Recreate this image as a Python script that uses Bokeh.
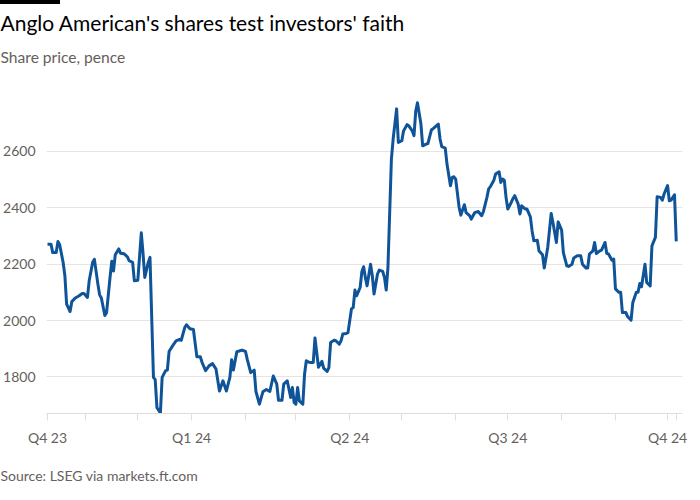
import pandas as pd
from bokeh.plotting import figure
from bokeh.models import ColumnDataSource, FixedTicker, Range1d, Title, Div
from bokeh.layouts import column
from bokeh.embed import file_html
from bokeh.resources import INLINE

# ---- data ----
dates = [
    "2023-10-10", "2023-10-12", "2023-10-13", "2023-10-15", "2023-10-16", "2023-10-17", "2023-10-19",
    "2023-10-20", "2023-10-21", "2023-10-23", "2023-10-24", "2023-10-26", "2023-10-28", "2023-10-30",
    "2023-10-31", "2023-11-02", "2023-11-03", "2023-11-05", "2023-11-06", "2023-11-08", "2023-11-09",
    "2023-11-10", "2023-11-12", "2023-11-13", "2023-11-15", "2023-11-16", "2023-11-17", "2023-11-18",
    "2023-11-20", "2023-11-21", "2023-11-23", "2023-11-25", "2023-11-26", "2023-11-28", "2023-11-29",
    "2023-12-01", "2023-12-03", "2023-12-04", "2023-12-05", "2023-12-07", "2023-12-08", "2023-12-10",
    "2023-12-11", "2023-12-12", "2023-12-14", "2023-12-15", "2023-12-17", "2023-12-18", "2023-12-19",
    "2023-12-21", "2023-12-23", "2023-12-25", "2023-12-26", "2023-12-28", "2023-12-29", "2023-12-31",
    "2024-01-02", "2024-01-04", "2024-01-06", "2024-01-07", "2024-01-09", "2024-01-11", "2024-01-13",
    "2024-01-15", "2024-01-17", "2024-01-19", "2024-01-21", "2024-01-23", "2024-01-24", "2024-01-25",
    "2024-01-27", "2024-01-30", "2024-02-01", "2024-02-02", "2024-02-04", "2024-02-06", "2024-02-07",
    "2024-02-09", "2024-02-11", "2024-02-13", "2024-02-15", "2024-02-17", "2024-02-19", "2024-02-20",
    "2024-02-22", "2024-02-23", "2024-02-25", "2024-02-26", "2024-02-27", "2024-02-28", "2024-02-29",
    "2024-03-01", "2024-03-02", "2024-03-03", "2024-03-05", "2024-03-06", "2024-03-07", "2024-03-09",
    "2024-03-11", "2024-03-12", "2024-03-14", "2024-03-16", "2024-03-17", "2024-03-19", "2024-03-20",
    "2024-03-21", "2024-03-23", "2024-03-24", "2024-03-26", "2024-03-27", "2024-03-28", "2024-03-30",
    "2024-03-31", "2024-04-02", "2024-04-03", "2024-04-04", "2024-04-05", "2024-04-07", "2024-04-08",
    "2024-04-09", "2024-04-10", "2024-04-11", "2024-04-13", "2024-04-14", "2024-04-15", "2024-04-17",
    "2024-04-18", "2024-04-20", "2024-04-21", "2024-04-22", "2024-04-23", "2024-04-25", "2024-04-26",
    "2024-04-28", "2024-04-29", "2024-05-01", "2024-05-02", "2024-05-04", "2024-05-05", "2024-05-07",
    "2024-05-08", "2024-05-09", "2024-05-10", "2024-05-12", "2024-05-13", "2024-05-15", "2024-05-16",
    "2024-05-18", "2024-05-19", "2024-05-22", "2024-05-23", "2024-05-24", "2024-05-26", "2024-05-27",
    "2024-05-29", "2024-05-30", "2024-05-31", "2024-06-01", "2024-06-03", "2024-06-04", "2024-06-06",
    "2024-06-07", "2024-06-09", "2024-06-10", "2024-06-12", "2024-06-14", "2024-06-16", "2024-06-17",
    "2024-06-19", "2024-06-20", "2024-06-21", "2024-06-23", "2024-06-24", "2024-06-26", "2024-06-27",
    "2024-06-28", "2024-06-29", "2024-06-30", "2024-07-01", "2024-07-03", "2024-07-04", "2024-07-05",
    "2024-07-07", "2024-07-08", "2024-07-09", "2024-07-11", "2024-07-12", "2024-07-14", "2024-07-15",
    "2024-07-16", "2024-07-18", "2024-07-19", "2024-07-21", "2024-07-22", "2024-07-24", "2024-07-26",
    "2024-07-27", "2024-07-29", "2024-07-30", "2024-08-01", "2024-08-02", "2024-08-04", "2024-08-05",
    "2024-08-07", "2024-08-08", "2024-08-10", "2024-08-12", "2024-08-13", "2024-08-15", "2024-08-16",
    "2024-08-17", "2024-08-19", "2024-08-20", "2024-08-21", "2024-08-23", "2024-08-24", "2024-08-26",
    "2024-08-27", "2024-08-28", "2024-08-30", "2024-08-31", "2024-09-01", "2024-09-03", "2024-09-04",
    "2024-09-05", "2024-09-07", "2024-09-08", "2024-09-10", "2024-09-11", "2024-09-13", "2024-09-14",
    "2024-09-15", "2024-09-16", "2024-09-18", "2024-09-19", "2024-09-21", "2024-09-22", "2024-09-24",
    "2024-09-25", "2024-09-27", "2024-09-28", "2024-09-29", "2024-10-01", "2024-10-02", "2024-10-03",
    "2024-10-05", "2024-10-06",
]
prices = [
    2271, 2271, 2241, 2241, 2280, 2269, 2206,
    2159, 2058, 2032, 2067, 2080, 2087, 2096,
    2096, 2082, 2141, 2207, 2217, 2129, 2091,
    2080, 2018, 2028, 2153, 2210, 2176, 2233,
    2254, 2239, 2237, 2226, 2212, 2206, 2141,
    2143, 2311, 2238, 2153, 2206, 2224, 1798,
    1790, 1691, 1672, 1798, 1822, 1824, 1890,
    1910, 1928, 1933, 1930, 1975, 1985, 1971,
    1968, 1871, 1871, 1851, 1822, 1839, 1847,
    1828, 1750, 1786, 1750, 1798, 1861, 1824,
    1889, 1895, 1890, 1862, 1815, 1824, 1748,
    1703, 1747, 1755, 1748, 1803, 1774, 1717,
    1717, 1774, 1786, 1757, 1727, 1762, 1709,
    1703, 1762, 1715, 1703, 1810, 1857, 1851,
    1851, 1938, 1834, 1855, 1831, 1819, 1833,
    1922, 1930, 1928, 1916, 1928, 1952, 1954,
    1957, 2041, 2046, 2108, 2088, 2117, 2174,
    2191, 2153, 2123, 2200, 2159, 2094, 2165,
    2179, 2174, 2153, 2108, 2188, 2573, 2644,
    2751, 2632, 2638, 2673, 2695, 2691, 2673,
    2656, 2742, 2773, 2697, 2620, 2626, 2628,
    2676, 2681, 2697, 2644, 2617, 2612, 2555,
    2478, 2508, 2510, 2502, 2401, 2374, 2411,
    2383, 2372, 2360, 2383, 2387, 2372, 2387,
    2437, 2467, 2475, 2498, 2520, 2528, 2490,
    2502, 2498, 2437, 2396, 2419, 2433, 2443,
    2413, 2378, 2407, 2396, 2396, 2368, 2318,
    2283, 2285, 2247, 2233, 2186, 2259, 2380,
    2348, 2277, 2350, 2321, 2241, 2194, 2192,
    2200, 2222, 2230, 2230, 2200, 2186, 2186,
    2236, 2247, 2277, 2238, 2247, 2250, 2277,
    2238, 2236, 2214, 2218, 2112, 2100, 2100,
    2028, 2028, 2014, 2001, 2064, 2100, 2100,
    2131, 2120, 2200, 2135, 2123, 2265, 2295,
    2439, 2437, 2427, 2449, 2479, 2425, 2427,
    2446, 2281,
]
y_ticks = [1800, 2000, 2200, 2400, 2600]
x_tick_dates = ["2023-10-10", "2023-11-01", "2023-12-01", "2024-01-01", "2024-02-01", "2024-03-01",
                "2024-04-01", "2024-05-01", "2024-06-01", "2024-07-01", "2024-08-01", "2024-09-01",
                "2024-10-01", "2024-10-06"]
x_tick_labels = ["Q4 23", "", "", "Q1 24", "", "", "Q2 24", "", "", "Q3 24", "", "", "Q4 24", ""]

title_text = "Anglo American's shares test investors' faith"
subtitle_text = "Share price, pence"
source_text = "Source: LSEG via markets.ft.com"

FONT = "Lato"
BLUE = "#0f5499"
GREY = "#66605c"
GRID = "#e9e4df"
AXIS = "#e2ddd8"

src = ColumnDataSource(dict(date=pd.to_datetime(dates), price=prices))

x_start = pd.Timestamp(dates[0]) - pd.Timedelta(hours=14)
x_end = pd.Timestamp(dates[0]) + pd.Timedelta(days=365.6)

p = figure(width=700, height=500, x_axis_type="datetime", output_backend="svg",
           toolbar_location=None, x_range=Range1d(x_start, x_end),
           y_range=Range1d(1670, 2873), title=None,
           min_border_left=43, min_border_right=18, min_border_top=70, min_border_bottom=91)
p.background_fill_color = "white"
p.border_fill_color = "white"
p.outline_line_color = None

p.line(x="date", y="price", source=src, line_color=BLUE, line_width=3, line_join="round")

# x axis
tick_ms = [pd.Timestamp(d).value / 1e6 for d in x_tick_dates]
p.xaxis.ticker = FixedTicker(ticks=tick_ms, minor_ticks=[])
p.xaxis.major_label_overrides = {t: lab for t, lab in zip(tick_ms, x_tick_labels)}
p.xaxis.axis_line_color = AXIS
p.xaxis.major_tick_line_color = AXIS
p.xaxis.major_tick_in = 0
p.xaxis.major_tick_out = 7
p.xaxis.minor_tick_line_color = None
p.xaxis.major_label_standoff = 8
p.xaxis.major_label_text_font = FONT
p.xaxis.major_label_text_font_size = "14px"
p.xaxis.major_label_text_color = GREY
p.xgrid.grid_line_color = None

# y axis
p.yaxis.ticker = FixedTicker(ticks=y_ticks, minor_ticks=[])
p.yaxis.axis_line_color = None
p.yaxis.major_tick_line_color = None
p.yaxis.minor_tick_line_color = None
p.yaxis.major_label_standoff = 5
p.yaxis.major_label_text_font = FONT
p.yaxis.major_label_text_font_size = "14px"
p.yaxis.major_label_text_color = GREY
p.ygrid.grid_line_color = GRID
p.ygrid.grid_line_width = 1

# subtitle (inner) then title (outer)
p.add_layout(Title(text=subtitle_text, align="left", offset=-46, standoff=18,
                   text_font=FONT, text_font_size="15.6px", text_font_style="normal",
                   text_color=GREY), "above")
p.add_layout(Title(text=title_text, align="left", offset=-46, standoff=3,
                   text_font=FONT, text_font_size="21px", text_font_style="normal",
                   text_color="black"), "above")

# source below the x axis
p.add_layout(Title(text=source_text, align="left", offset=-46, standoff=32,
                   text_font=FONT, text_font_size="14px", text_font_style="normal",
                   text_color=GREY), "below")

bar = Div(text="", width=60, height=4, margin=0,
          styles={"background-color": "black"})

layout = column(bar, p, spacing=0)

open("out.html", "w").write(file_html(layout, INLINE))
